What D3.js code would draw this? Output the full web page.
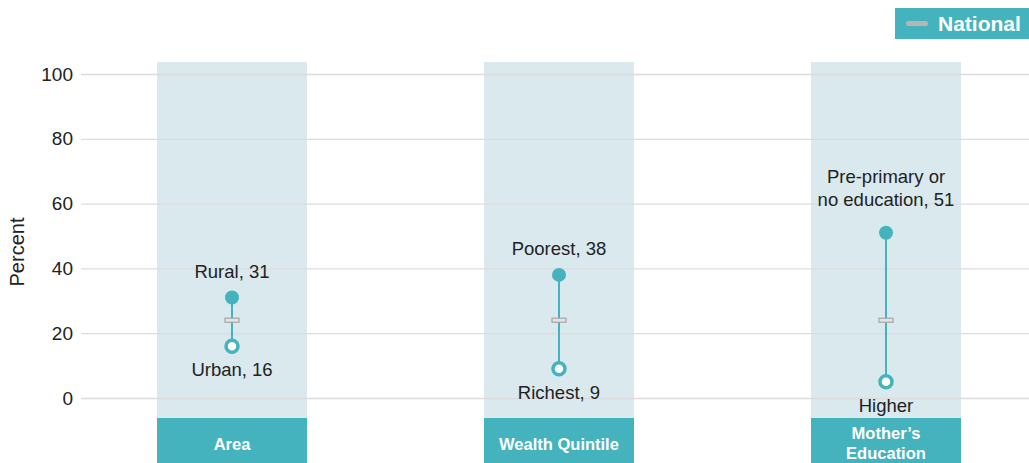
<!DOCTYPE html>
<html>
<head>
<meta charset="utf-8">
<script src="https://cdn.jsdelivr.net/npm/d3@7"></script>
<style>
  body { margin: 0; background: #fff; }
  text { font-family: "Liberation Sans", Arial, sans-serif; }
</style>
</head>
<body>
<div id="chart"></div>
<script>
// data
var groups = ["Area", "Wealth Quintile", "Mother's Education"];
var highLabels = [["Rural, 31"], ["Poorest, 38"], ["Pre-primary or", "no education, 51"]];
var lowLabels = ["Urban, 16", "Richest, 9", "Higher"];
var highValues = [31, 38, 51];
var lowValues = [16, 9, 5];
var nationalValues = [24, 24, 24];
var yTicks = [0, 20, 40, 60, 80, 100];

var width = 1029,
    height = 463;

var teal = "#45b3bd",
    band = "#d9e9ee";

var svg = d3.select("#chart")
    .append("svg")
    .attr("width", width)
    .attr("height", height);

var y = d3.scaleLinear().domain([0, 100]).range([398, 74]);
var x = d3.scalePoint().domain(groups).range([232, 886]);
var bandW = 150;

// background bands
svg.selectAll(".band")
    .data(groups)
    .enter()
    .append("rect")
    .attr("x", function (d) { return x(d) - bandW / 2 })
    .attr("y", 62)
    .attr("width", bandW)
    .attr("height", 356)
    .attr("fill", band);

// grid + axis
var axis = d3.axisLeft(y)
    .tickValues(yTicks)
    .tickSize(-(width - 81))
    .tickPadding(8);

var g = svg.append("g")
    .attr("transform", "translate(81,0)")
    .call(axis);
g.select(".domain").remove();
g.selectAll(".tick line").attr("stroke", "#dcdcdc").attr("stroke-width", 1.3);
g.selectAll(".tick text")
    .attr("font-size", 19)
    .attr("fill", "#222")
    .attr("font-family", "Liberation Sans, Arial, sans-serif");

svg.append("text")
    .attr("transform", "translate(24,252) rotate(-90)")
    .attr("text-anchor", "middle")
    .attr("font-size", 20)
    .attr("fill", "#222")
    .text("Percent");

// category boxes
svg.selectAll(".cat")
    .data(groups)
    .enter()
    .append("rect")
    .attr("x", function (d) { return x(d) - bandW / 2 })
    .attr("y", 418)
    .attr("width", bandW)
    .attr("height", height - 418)
    .attr("fill", teal);

groups.forEach(function (d) {
    var t = svg.append("text")
        .attr("text-anchor", "middle")
        .attr("font-size", 16.5)
        .attr("font-weight", "bold")
        .attr("fill", "#fff");
    if (d === "Mother's Education") {
        t.append("tspan").attr("x", x(d)).attr("y", 439).text("Mother\u2019s");
        t.append("tspan").attr("x", x(d)).attr("y", 459).text("Education");
    } else {
        t.attr("x", x(d)).attr("y", 450).text(d);
    }
});

// connecting lines
groups.forEach(function (d, i) {
    svg.append("line")
        .attr("x1", x(d)).attr("x2", x(d))
        .attr("y1", y(highValues[i])).attr("y2", y(lowValues[i]))
        .attr("stroke", teal)
        .attr("stroke-width", 2);

    svg.append("rect")
        .attr("x", x(d) - 7)
        .attr("y", y(nationalValues[i]) - 2)
        .attr("width", 14)
        .attr("height", 4)
        .attr("fill", "#e4e4e4")
        .attr("stroke", "#aaa")
        .attr("stroke-width", 1.3);

    svg.append("circle")
        .attr("cx", x(d)).attr("cy", y(highValues[i]))
        .attr("r", 7)
        .attr("fill", teal);

    svg.append("circle")
        .attr("cx", x(d)).attr("cy", y(lowValues[i]))
        .attr("r", 6)
        .attr("fill", "#fff")
        .attr("stroke", teal)
        .attr("stroke-width", 3.5);

    var lines = highLabels[i];
    var off = lines.length > 1 ? 27 : 20;
    var ht = svg.append("text")
        .attr("text-anchor", "middle")
        .attr("font-size", 18.5)
        .attr("fill", "#222");
    lines.forEach(function (l, j) {
        ht.append("tspan")
            .attr("x", x(d))
            .attr("y", y(highValues[i]) - off - (lines.length - 1 - j) * 23)
            .text(l);
    });

    svg.append("text")
        .attr("x", x(d))
        .attr("y", y(lowValues[i]) + 30)
        .attr("text-anchor", "middle")
        .attr("font-size", 18.5)
        .attr("fill", "#222")
        .text(lowLabels[i]);
});

// legend
svg.append("rect")
    .attr("x", 895).attr("y", 8)
    .attr("width", 134).attr("height", 31)
    .attr("fill", teal);
svg.append("rect")
    .attr("x", 906).attr("y", 21)
    .attr("width", 22).attr("height", 5)
    .attr("rx", 2)
    .attr("fill", "#b5b5b5");
svg.append("text")
    .attr("x", 938).attr("y", 31)
    .attr("font-size", 21)
    .attr("font-weight", "bold")
    .attr("fill", "#fff")
    .text("National");
</script>
</body>
</html>
